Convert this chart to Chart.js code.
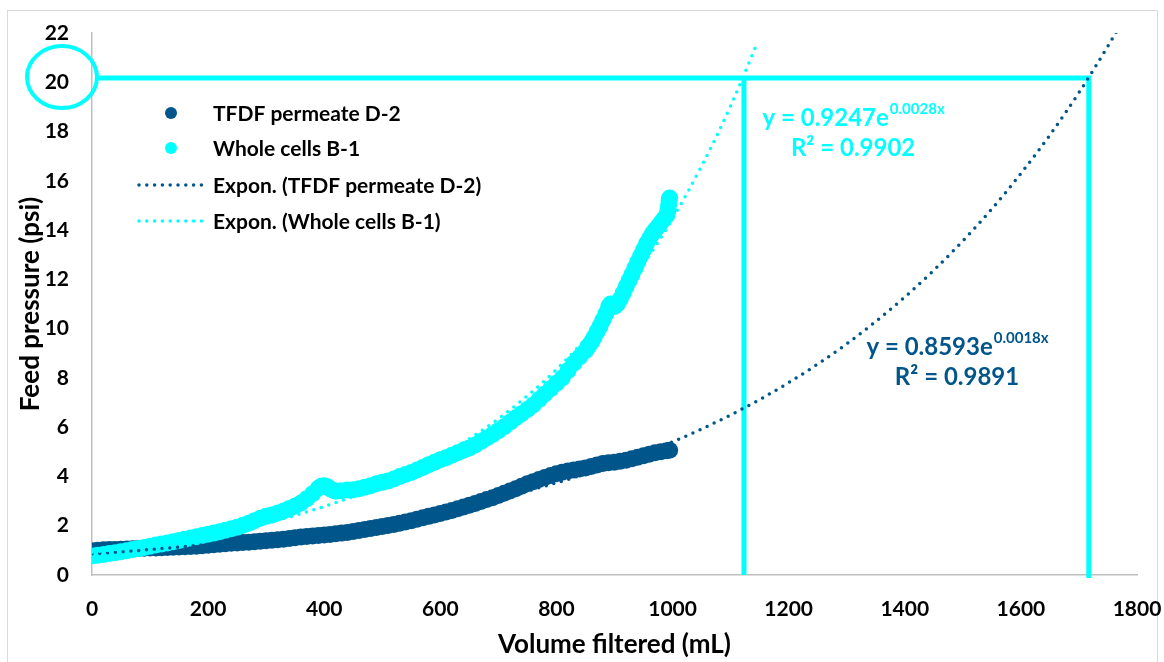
<!DOCTYPE html>
<html><head><meta charset="utf-8">
<script src="https://cdn.jsdelivr.net/npm/chart.js@4.4.1/dist/chart.umd.min.js"></script>
<style>html,body{margin:0;padding:0;background:#fff}#wrap{width:1164px;height:662px}</style>
</head><body><div id="wrap"><canvas id="c" width="1164" height="662"></canvas></div>
<script>
// ---------- DATA ----------
const seriesNames = ["TFDF permeate D-2", "Whole cells B-1", "Expon. (TFDF permeate D-2)", "Expon. (Whole cells B-1)"];
const xTitle = "Volume filtered (mL)";
const yTitle = "Feed pressure (psi)";
const xTicks = [0, 200, 400, 600, 800, 1000, 1200, 1400, 1600, 1800];
const yTicks = [0, 2, 4, 6, 8, 10, 12, 14, 16, 18, 20, 22];

// TFDF permeate D-2 : [volume mL, pressure psi]
const tfdfPoints = [
[0,0.98],[10,1.0],[20,1.02],[30,1.03],[40,1.04],[50,1.05],[60,1.06],[70,1.07],[80,1.08],[90,1.09],
[100,1.1],[110,1.1],[120,1.11],[130,1.12],[140,1.13],[150,1.14],[160,1.15],[170,1.16],[180,1.17],[190,1.19],
[200,1.21],[210,1.23],[220,1.25],[230,1.27],[240,1.29],[250,1.3],[260,1.32],[270,1.33],[280,1.35],[290,1.37],
[300,1.39],[310,1.41],[320,1.43],[330,1.45],[340,1.48],[350,1.51],[360,1.54],[370,1.56],[380,1.58],[390,1.6],
[400,1.62],[410,1.64],[420,1.67],[430,1.7],[440,1.73],[450,1.77],[460,1.81],[470,1.85],[480,1.89],[490,1.93],
[500,1.97],[510,2.01],[520,2.05],[530,2.1],[540,2.15],[550,2.2],[560,2.26],[570,2.32],[580,2.38],[590,2.44],
[600,2.5],[610,2.56],[620,2.62],[630,2.69],[640,2.76],[650,2.83],[660,2.9],[670,2.98],[680,3.06],[690,3.14],
[700,3.23],[710,3.32],[720,3.41],[730,3.5],[740,3.6],[750,3.7],[760,3.79],[770,3.88],[780,3.96],[790,4.04],
[800,4.11],[810,4.17],[820,4.22],[830,4.26],[840,4.3],[850,4.34],[860,4.4],[870,4.47],[880,4.53],[890,4.56],
[900,4.58],[910,4.62],[920,4.66],[930,4.72],[940,4.78],[950,4.84],[960,4.9],[970,4.96],[980,5.0],[990,5.04],[995,5.06]
];

// Whole cells B-1 : [volume mL, pressure psi]
const wholeCellsPoints = [
[0,0.77],[10,0.8],[20,0.83],[30,0.87],[40,0.9],[50,0.94],[60,0.98],[70,1.03],[80,1.08],[90,1.12],
[100,1.17],[110,1.22],[120,1.26],[130,1.3],[140,1.35],[150,1.4],[160,1.45],[170,1.5],[180,1.55],[190,1.6],
[200,1.65],[210,1.7],[220,1.76],[230,1.82],[240,1.88],[250,1.94],[260,2.02],[270,2.1],[280,2.2],[290,2.3],
[300,2.38],[310,2.44],[320,2.52],[330,2.6],[340,2.7],[350,2.8],[360,2.92],[370,3.1],[380,3.3],[390,3.52],
[395,3.6],[400,3.62],[405,3.58],[410,3.5],[415,3.44],[420,3.4],[430,3.42],[440,3.45],[450,3.46],[460,3.5],
[470,3.56],[480,3.62],[490,3.7],[500,3.76],[510,3.82],[520,3.9],[530,4.0],[540,4.08],[550,4.16],[560,4.26],
[570,4.36],[580,4.48],[590,4.58],[600,4.68],[610,4.76],[620,4.86],[630,4.96],[640,5.06],[650,5.16],[660,5.28],
[670,5.42],[680,5.56],[690,5.7],[700,5.86],[710,6.02],[720,6.2],[730,6.38],[740,6.55],[750,6.72],[760,6.9],
[770,7.12],[780,7.35],[790,7.56],[800,7.78],[810,8.0],[820,8.3],[830,8.6],[840,8.85],[850,9.1],[855,9.28],
[860,9.45],[865,9.65],[870,9.88],[875,10.1],[880,10.35],[885,10.6],[890,10.9],[893,11.0],[896,10.95],[900,10.9],
[905,11.0],[910,11.2],[915,11.45],[920,11.7],[925,11.95],[930,12.2],[935,12.45],[940,12.7],[945,12.95],[950,13.2],
[955,13.45],[960,13.65],[965,13.85],[970,14.0],[975,14.15],[980,14.3],[985,14.45],[990,14.6],[992,14.8],[993,15.0],
[994,15.2],[995,15.3]
];

// Exponential trendlines as drawn in the picture
const tfdfTrend = [
[0,0.859],[50,0.942],[100,1.033],[150,1.132],[200,1.241],[250,1.361],[300,1.492],[350,1.636],[400,1.793],[450,1.966],
[500,2.155],[550,2.363],[600,2.59],[650,2.84],[700,3.113],[750,3.413],[800,3.742],[850,4.102],[900,4.497],[950,4.93],
[1000,5.405],[1050,5.926],[1100,6.497],[1150,7.122],[1200,7.808],[1250,8.56],[1300,9.384],[1350,10.29],[1400,11.28],[1450,12.37],
[1500,13.56],[1550,14.86],[1600,16.3],[1650,17.86],[1700,19.58],[1750,21.47],[1765,22.07]
];
const wholeCellsTrend = [
[0,0.925],[50,1.061],[100,1.217],[150,1.397],[200,1.603],[250,1.839],[300,2.11],[350,2.421],[400,2.778],[450,3.187],
[500,3.657],[550,4.196],[600,4.815],[650,5.525],[700,6.339],[750,7.274],[800,8.345],[850,9.576],[900,10.99],[950,12.61],
[1000,14.47],[1050,16.6],[1100,19.04],[1145,21.55]
];

// Guide lines drawn on the chart (cyan)
const guideRight = [[10,20.17],[1717,20.17],[1717,-0.12]];
const guideLeft = [[1123,20.17],[1123,0]];

// Trendline equations
const eqTfdf = {base: "y = 0.8593e", sup: "0.0018x", r2: "R\u00B2 = 0.9891"};
const eqWhole = {base: "y = 0.9247e", sup: "0.0028x", r2: "R\u00B2 = 0.9902"};

// ---------- STYLE ----------
const DARK = "#00568a";
const CYAN = "#00ffff";
const FONT = "Lato, 'Open Sans', sans-serif";
const toXY = a => a.map(p => ({x: p[0], y: p[1]}));

const framePlugin = {
  id: 'frame',
  beforeDraw(chart) {
    const ctx = chart.ctx;
    ctx.save();
    ctx.fillStyle = '#fff';
    ctx.fillRect(0, 0, chart.width, chart.height);
    ctx.strokeStyle = '#d9d9d9';
    ctx.lineWidth = 1;
    ctx.strokeRect(7.5, 10.5, 1150, 700);
    ctx.restore();
  }
};

const annotPlugin = {
  id: 'annot',
  afterDatasetsDraw(chart) {
    const ctx = chart.ctx;
    const xs = chart.scales.x, ys = chart.scales.y;
    ctx.save();
    // ellipse around the 20 tick label
    const cy = ys.getPixelForValue(20.17);
    ctx.strokeStyle = CYAN;
    ctx.lineWidth = 4;
    ctx.beginPath();
    ctx.ellipse(chart.chartArea.left - 30, cy - 1, 35, 31, 0, 0, Math.PI * 2);
    ctx.stroke();

    // equations
    function drawEq(eq, cx, cyv, color) {
      const px = xs.getPixelForValue(cx), py = ys.getPixelForValue(cyv);
      ctx.fillStyle = color;
      ctx.textBaseline = 'middle';
      ctx.textAlign = 'left';
      const bf = "bold 24px " + FONT, sf = "bold 15px " + FONT;
      ctx.font = bf; const w1 = ctx.measureText(eq.base).width;
      ctx.font = sf; const w2 = ctx.measureText(eq.sup).width;
      const start = px - (w1 + w2) / 2;
      ctx.font = bf; ctx.fillText(eq.base, start, py);
      ctx.font = sf; ctx.fillText(eq.sup, start + w1 + 1, py - 9);
      ctx.font = bf; ctx.textAlign = 'center';
      ctx.fillText(eq.r2, px, py + 30);
    }
    drawEq(eqWhole, 1311, 18.55, CYAN);
    drawEq(eqTfdf, 1490, 9.25, DARK);

    // legend
    const ds = chart.data.datasets;
    const rows = [113, 148, 185, 221];
    ctx.textAlign = 'left';
    ctx.textBaseline = 'middle';
    for (let i = 0; i < 4; i++) {
      const d = ds[i];
      const y = rows[i];
      if (d.showLine) {
        ctx.strokeStyle = d.borderColor;
        ctx.lineWidth = d.borderWidth;
        ctx.lineCap = 'round';
        ctx.setLineDash(d.borderDash);
        ctx.beginPath(); ctx.moveTo(139, y); ctx.lineTo(206, y); ctx.stroke();
        ctx.setLineDash([]);
      } else {
        ctx.fillStyle = d.backgroundColor;
        ctx.beginPath(); ctx.arc(171, y, 6, 0, Math.PI * 2); ctx.fill();
      }
      ctx.fillStyle = '#000';
      ctx.font = "bold 21px " + FONT;
      ctx.fillText(d.label, 213, y + 1);
    }
    ctx.restore();
  }
};

const trendStyle = (c) => ({borderColor: c, backgroundColor: c, borderWidth: 3.5, borderDash: [0, 7.8], borderCapStyle: 'round', pointRadius: 0, showLine: true, cubicInterpolationMode: 'monotone', fill: false});
const tickFmt = v => String(v);

new Chart(document.getElementById('c'), {
  type: 'scatter',
  data: {
    datasets: [
      {label: seriesNames[0], data: toXY(tfdfPoints), backgroundColor: DARK, borderColor: DARK, pointRadius: 8.5, borderWidth: 0, showLine: false, order: 3},
      {label: seriesNames[1], data: toXY(wholeCellsPoints), backgroundColor: CYAN, borderColor: CYAN, pointRadius: 8.5, borderWidth: 0, showLine: false, order: 2},
      Object.assign({label: seriesNames[2], data: toXY(tfdfTrend), order: 1}, trendStyle(DARK)),
      Object.assign({label: seriesNames[3], data: toXY(wholeCellsTrend), order: 0}, trendStyle(CYAN)),
      {label: 'guide1', data: toXY(guideRight), showLine: true, borderColor: CYAN, borderWidth: 5, pointRadius: 0, clip: false, borderJoinStyle: 'miter', order: 4},
      {label: 'guide2', data: toXY(guideLeft), showLine: true, borderColor: CYAN, borderWidth: 5, pointRadius: 0, clip: false, order: 4}
    ]
  },
  options: {
    responsive: false,
    animation: false,
    devicePixelRatio: 1,
    layout: {padding: {left: 0, top: 33, right: 27, bottom: 0}},
    plugins: {legend: {display: false}, tooltip: {enabled: false}},
    scales: {
      x: {
        type: 'linear', min: 0, max: 1800,
        afterBuildTicks: s => { s.ticks = xTicks.map(v => ({value: v})); },
        afterFit: s => { s.height = 87; },
        grid: {display: false, drawTicks: true, tickLength: 22},
        border: {display: true, color: '#bfbfbf', width: 1.5},
        ticks: {callback: tickFmt, color: '#000', font: {family: FONT, size: 21, weight: 'bold'}, padding: 0, maxRotation: 0, autoSkip: false},
        title: {display: true, text: xTitle, color: '#000', font: {family: FONT, size: 26, weight: 'bold'}, padding: {top: 0, bottom: 2}}
      },
      y: {
        type: 'linear', min: 0, max: 22,
        afterBuildTicks: s => { s.ticks = yTicks.map(v => ({value: v})); },
        afterFit: s => { s.width = 92; },
        grid: {display: false, drawTicks: true, tickLength: 23},
        border: {display: true, color: '#bfbfbf', width: 1.5},
        ticks: {callback: tickFmt, color: '#000', font: {family: FONT, size: 21, weight: 'bold'}, padding: 0, autoSkip: false},
        title: {display: true, text: yTitle, color: '#000', font: {family: FONT, size: 26, weight: 'bold'}, padding: {top: 15, bottom: 0}}
      }
    }
  },
  plugins: [framePlugin, annotPlugin]
});
</script>
</body></html>
